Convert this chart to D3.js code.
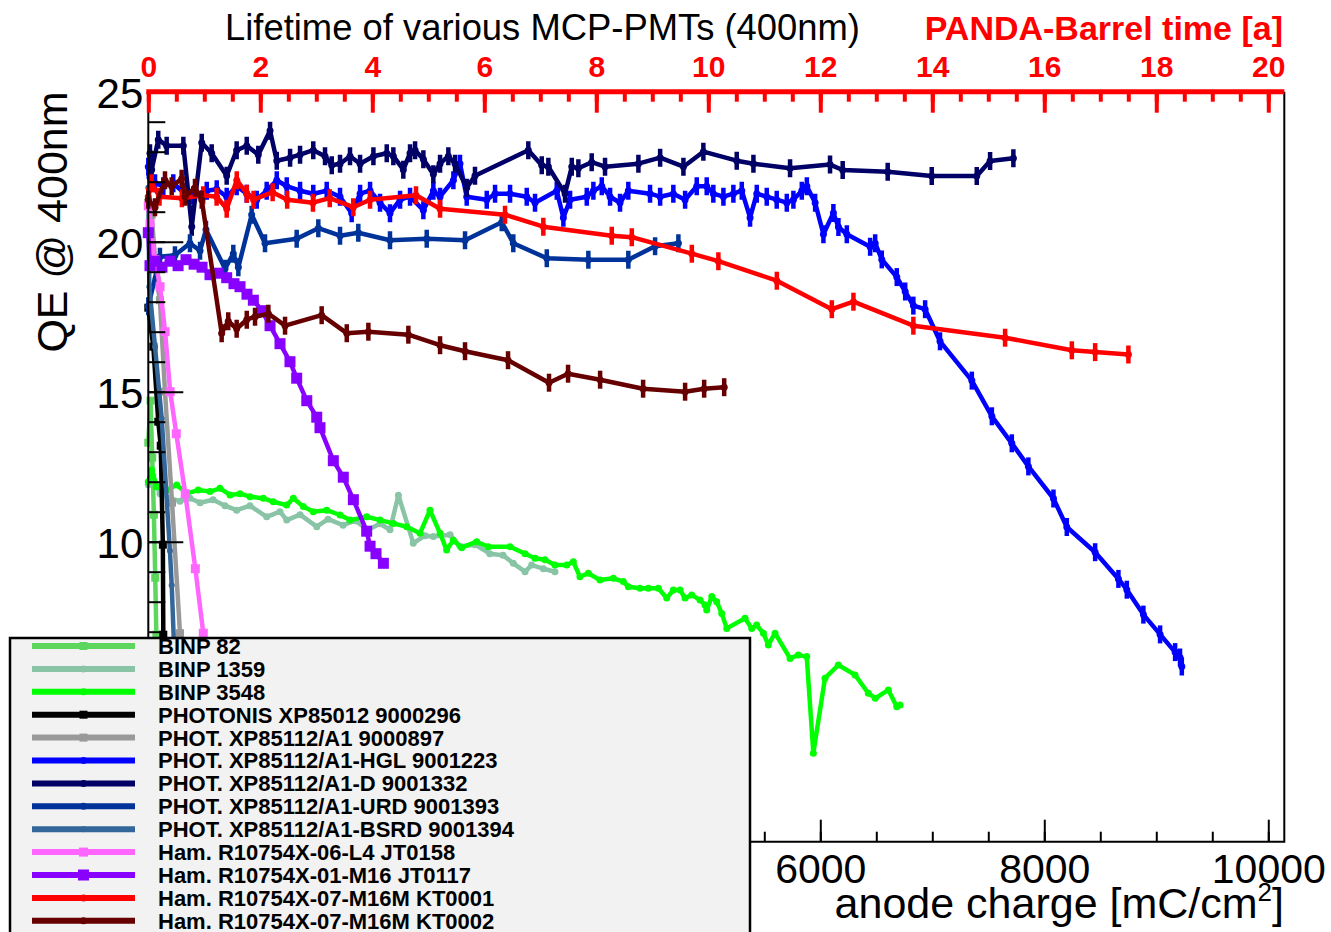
<!DOCTYPE html>
<html>
<head>
<meta charset="utf-8">
<script src="https://cdn.jsdelivr.net/npm/d3@7"></script>
<style>
body { margin: 0; background: #fff; }
svg { display: block; font-family: "Liberation Sans", Arial, sans-serif; }
</style>
</head>
<body>
<svg id="chart" width="1331" height="932"></svg>
<script>
// data: [anode charge mC/cm2, QE %]
const binp82 = [[0,13.3],[20,14.7],[35,12.8],[50,10.9],[62,8.8],[72,6.9],[85,4.5],[100,2.0]]
const binp1359 = [[0,11.9],[42,12.2],[104,11.6],[194,11.45],[283,11.35],[372,11.45],[462,11.3],[578,11.4],[685,11.2],[789,11.05],[908,11.2],[1057,10.83],[1176,11.0],[1236,10.72],[1355,10.9],[1504,10.5],[1605,10.75],[1739,10.55],[1846,10.7],[1962,10.4],[2069,10.6],[2158,10.4],[2233,11.55],[2366,9.95],[2471,10.2],[2545,10.17],[2694,10.23],[2783,9.85],[2917,9.9],[3049,9.6],[3167,9.55],[3259,9.28],[3364,9.0],[3423,9.22],[3527,9.1],[3631,9.0]]
const binp3548 = [[0,12.0],[30,12.39],[75,11.83],[164,11.72],[254,11.89],[343,11.61],[446,11.72],[551,11.67],[640,11.78],[730,11.56],[819,11.6],[908,11.5],[1027,11.45],[1116,11.33],[1236,11.22],[1295,11.45],[1384,11.17],[1473,11.0],[1593,11.05],[1712,10.89],[1801,10.72],[1950,10.83],[2069,10.72],[2188,10.61],[2307,10.5],[2426,10.28],[2515,11.05],[2605,10.28],[2664,9.72],[2723,10.05],[2798,9.8],[2932,10.0],[3036,9.83],[3230,9.83],[3364,9.6],[3453,9.45],[3542,9.4],[3631,9.22],[3736,9.22],[3795,9.33],[3854,8.83],[3929,8.95],[4033,8.72],[4152,8.78],[4241,8.67],[4286,8.5],[4390,8.45],[4465,8.45],[4554,8.45],[4629,8.12],[4688,8.39],[4748,8.39],[4792,8.12],[4852,8.22],[4926,8.06],[4971,7.89],[4986,7.72],[5031,8.17],[5075,8.0],[5120,7.61],[5165,7.11],[5328,7.45],[5388,7.11],[5432,7.22],[5492,6.95],[5536,6.56],[5596,6.95],[5730,6.11],[5804,6.22],[5879,6.17],[5938,2.95],[6042,5.45],[6161,5.89],[6310,5.56],[6429,4.95],[6491,4.78],[6608,5.06],[6683,4.5],[6712,4.56]]
const phot296 = [[0,17.8],[45,16.5],[89,14.0],[111,13.2],[130,9.9],[134,6.9],[140,3.0]]
const phot897 = [[0,21.3],[30,20.9],[75,18.7],[104,18.05],[149,15.0],[212,11.3],[283,6.95],[337,4.5]]
const photHGL = [[0,22.5],[15,22.15],[60,21.95],[134,21.85],[223,21.95],[313,21.65],[402,21.55],[522,21.7],[611,21.75],[700,21.5],[789,21.85],[879,21.6],[968,21.4],[1057,21.7],[1147,22.05],[1236,21.85],[1355,21.7],[1473,21.6],[1593,21.7],[1712,21.5],[1816,20.95],[1891,21.6],[1980,21.7],[2069,21.3],[2158,20.95],[2248,21.4],[2337,21.5],[2456,21.05],[2545,21.7],[2605,21.5],[2724,22.05],[2783,22.6],[2843,21.5],[3022,21.4],[3096,21.6],[3230,21.6],[3379,21.5],[3453,21.3],[3647,21.7],[3706,20.8],[3766,21.4],[3915,21.5],[3974,21.7],[4049,21.85],[4123,21.5],[4212,21.3],[4286,21.7],[4480,21.6],[4570,21.5],[4688,21.6],[4793,21.4],[4897,21.85],[4986,21.85],[5045,21.6],[5135,21.5],[5224,21.6],[5299,21.7],[5373,20.8],[5433,21.6],[5522,21.5],[5611,21.4],[5701,21.3],[5760,21.4],[5835,21.7],[5880,21.85],[5954,21.3],[6028,20.25],[6117,20.96],[6162,20.49],[6237,20.25],[6445,19.83],[6490,19.95],[6549,19.41],[6683,18.82],[6758,18.34],[6831,17.87],[6936,17.75],[7069,16.68],[7353,15.37],[7532,14.18],[7710,13.28],[7858,12.51],[8082,11.44],[8201,10.49],[8454,9.65],[8662,8.76],[8737,8.4],[8885,7.57],[9034,6.91],[9168,6.32],[9212,6.14],[9228,5.84]]
const photD = [[15,22.95],[30,22.4],[89,23.4],[164,23.2],[313,23.2],[388,20.5],[477,23.3],[566,22.95],[700,22.2],[789,23.05],[879,23.2],[982,22.9],[1087,23.7],[1147,22.7],[1266,22.8],[1355,22.9],[1473,23.05],[1578,22.85],[1638,22.55],[1712,22.6],[1801,22.85],[1891,22.6],[2010,22.85],[2129,22.95],[2188,22.85],[2277,22.4],[2337,22.95],[2382,23.05],[2456,22.75],[2545,22.25],[2605,22.6],[2679,22.85],[2739,22.6],[2843,21.8],[2917,22.2],[3393,23.05],[3513,22.55],[3572,22.5],[3721,21.6],[3781,22.5],[3840,22.45],[3959,22.65],[4078,22.5],[4376,22.6],[4570,22.8],[4778,22.5],[4956,23.0],[5254,22.7],[5403,22.6],[5730,22.45],[6087,22.57],[6200,22.39],[6602,22.33],[6995,22.19],[7397,22.19],[7516,22.69],[7724,22.78]]
const photURD = [[0,17.85],[104,19.5],[238,19.55],[372,19.95],[462,19.7],[515,20.4],[685,19.1],[759,19.6],[804,19.15],[923,20.9],[1042,19.95],[1325,20.1],[1518,20.45],[1712,20.2],[1875,20.3],[2158,20.05],[2486,20.1],[2828,20.05],[3156,20.65],[3259,19.95],[3558,19.45],[3929,19.4],[4286,19.4],[4525,19.85],[4733,19.95]]
const photBSRD = [[0,21.8],[9,18.5],[60,16.5],[120,14.1],[193,9.7],[209,8.55],[230,6.5],[260,4.5]]
const hamL4 = [[0,21.2],[15,20.6],[60,19.4],[105,18.5],[150,17.0],[195,15.0],[250,13.6],[330,11.6],[420,9.1],[491,6.95],[560,5.2],[620,3.8]]
const hamM16 = [[0,20.3],[15,19.2],[60,19.35],[122,19.15],[194,19.35],[266,19.2],[337,19.4],[409,19.25],[480,19.15],[551,18.9],[623,18.95],[700,18.8],[765,18.6],[819,18.5],[881,18.25],[938,18.05],[1015,17.7],[1087,17.2],[1176,16.6],[1265,16.0],[1325,15.45],[1415,14.7],[1504,14.15],[1533,13.8],[1652,12.7],[1741,12.15],[1831,11.4],[1950,10.35],[1980,9.85],[2033,9.6],[2099,9.28]]
const hamKT1 = [[0,21.5],[30,21.95],[100,21.5],[300,21.45],[490,21.55],[610,21.5],[700,21.1],[790,22.05],[880,21.6],[940,21.4],[1110,21.65],[1240,21.4],[1470,21.3],[1620,21.45],[1830,21.15],[1980,21.4],[2390,21.55],[2605,21.1],[3185,20.9],[3527,20.5],[4138,20.2],[4317,20.15],[4853,19.6],[5090,19.35],[5612,18.7],[6103,17.75],[6296,18.0],[6831,17.2],[7650,16.8],[8246,16.38],[8454,16.32],[8751,16.24]]
const hamKT2 = [[0,21.4],[60,21.15],[149,22.05],[209,21.85],[298,22.1],[328,21.5],[417,21.8],[477,21.4],[655,16.95],[714,17.35],[789,17.1],[879,17.4],[953,17.5],[1072,17.6],[1221,17.2],[1548,17.55],[1772,16.95],[1965,17.0],[2322,16.9],[2605,16.55],[2828,16.35],[3212,16.05],[3578,15.3],[3748,15.6],[4034,15.4],[4418,15.1],[4793,15.0],[4963,15.1],[5142,15.15]]

const chargeTicks = [0, 2000, 4000, 6000, 8000, 10000]
const qeTicks = [0, 5, 10, 15, 20, 25]
const yearTicks = [0, 2, 4, 6, 8, 10, 12, 14, 16, 18, 20]

// styles for each graph, in drawing order
const series = [
    { label: "BINP 82", data: binp82, color: "#5cd65c", marker: "square", ms: 8, err: false },
    { label: "BINP 1359", data: binp1359, color: "#88c4a5", marker: "circle", ms: 7, err: false },
    { label: "BINP 3548", data: binp3548, color: "#00ff00", marker: "circle", ms: 7, err: false },
    { label: "PHOTONIS XP85012 9000296", data: phot296, color: "#000000", marker: "square", ms: 8, err: false },
    { label: "PHOT. XP85112/A1 9000897", data: phot897, color: "#999999", marker: "square", ms: 8, err: false },
    { label: "PHOT. XP85112/A1-HGL 9001223", data: photHGL, color: "#0000ff", marker: "circle", ms: 7, err: true },
    { label: "PHOT. XP85112/A1-D 9001332", data: photD, color: "#000066", marker: "circle", ms: 7, err: true },
    { label: "PHOT. XP85112/A1-URD 9001393", data: photURD, color: "#003399", marker: "circle", ms: 7, err: true },
    { label: "PHOT. XP85112/A1-BSRD 9001394", data: photBSRD, color: "#336699", marker: "circle", ms: 6, err: false },
    { label: "Ham. R10754X-06-L4 JT0158", data: hamL4, color: "#ff66ff", marker: "square", ms: 9, err: false },
    { label: "Ham. R10754X-01-M16 JT0117", data: hamM16, color: "#8800ff", marker: "square", ms: 11, err: false },
    { label: "Ham. R10754X-07-M16M KT0001", data: hamKT1, color: "#ff0000", marker: "circle", ms: 7, err: true },
    { label: "Ham. R10754X-07-M16M KT0002", data: hamKT2, color: "#660000", marker: "circle", ms: 7, err: true },
]

const padL = 148.3, padR = 1284.3, padT = 91.7, padB = 841.7

const svg = d3.select("#chart")
const x = d3.scaleLinear().domain([0, 10143]).range([padL, padR])
const xTop = d3.scaleLinear().domain([0, 10143 / 500]).range([padL, padR])
const y = d3.scaleLinear().domain([0, 25]).range([padB, padT])

svg.append("rect").attr("width", 1331).attr("height", 932).attr("fill", "#fff")

// titles
svg.append("text").attr("x", 225).attr("y", 40).attr("font-size", 36.4)
    .text("Lifetime of various MCP-PMTs (400nm)")
svg.append("text").attr("x", 1283).attr("y", 40).attr("text-anchor", "end")
    .attr("font-size", 34).attr("font-weight", "bold").attr("fill", "#ff0000")
    .text("PANDA-Barrel time [a]")

// clip for graphs
svg.append("clipPath").attr("id", "clip").append("rect")
    .attr("x", padL - 8).attr("y", padT).attr("width", padR - padL + 8).attr("height", padB - padT)

const line = d3.line().x(d => x(d[0])).y(d => y(d[1]))
const plot = svg.append("g").attr("clip-path", "url(#clip)")

series.forEach(s => {
    const g = plot.append("g")
    g.append("path").datum(s.data)
        .attr("fill", "none").attr("stroke", s.color).attr("stroke-width", 4.5)
        .attr("stroke-linejoin", "round").attr("d", line)
    if (s.err) {
        g.selectAll("line.err").data(s.data).join("line")
            .attr("x1", d => x(d[0])).attr("x2", d => x(d[0]))
            .attr("y1", d => y(d[1] - 0.3)).attr("y2", d => y(d[1] + 0.3))
            .attr("stroke", s.color).attr("stroke-width", 4.5)
    }
    if (s.marker == "square") {
        g.selectAll("rect").data(s.data).join("rect")
            .attr("x", d => x(d[0]) - s.ms / 2).attr("y", d => y(d[1]) - s.ms / 2)
            .attr("width", s.ms).attr("height", s.ms).attr("fill", s.color)
    } else {
        g.selectAll("circle").data(s.data).join("circle")
            .attr("cx", d => x(d[0])).attr("cy", d => y(d[1])).attr("r", s.ms / 2)
            .attr("fill", s.color)
    }
})

// bottom axis
const minorCharge = d3.range(0, 10001, 500)
svg.append("g").attr("transform", `translate(0,${padB})`)
    .call(d3.axisBottom(x).tickValues(minorCharge).tickSize(-10).tickFormat(""))
svg.append("g").attr("class", "xaxis").attr("transform", `translate(0,${padB})`)
    .call(d3.axisBottom(x).tickValues(chargeTicks).tickSize(-22).tickPadding(12).tickFormat(d3.format("d")))
    .selectAll("text").attr("font-size", 41).attr("fill", "#000")

// left axis
svg.append("g").attr("transform", `translate(${padL},0)`)
    .call(d3.axisLeft(y).tickValues(d3.range(0, 26, 1)).tickSize(-17).tickFormat(""))
svg.append("g").attr("class", "yaxis").attr("transform", `translate(${padL},0)`)
    .call(d3.axisLeft(y).tickValues(qeTicks).tickSize(-35).tickPadding(5))
    .selectAll("text").attr("font-size", 42).attr("fill", "#000").attr("dy", "0.38em")

svg.selectAll(".domain").remove()
svg.selectAll(".tick line").attr("stroke", "#000").attr("stroke-width", 2)

// frame
svg.append("path").attr("d", `M${padL},${padT}V${padB}H${padR}V${padT}`)
    .attr("fill", "none").attr("stroke", "#000").attr("stroke-width", 2)

// top red axis
const topAxis = svg.append("g").attr("transform", `translate(0,${padT})`)
topAxis.append("g")
    .call(d3.axisTop(xTop).tickValues(d3.range(0, 20.01, 0.5)).tickSize(-10).tickFormat(""))
topAxis.append("g")
    .call(d3.axisTop(xTop).tickValues(yearTicks).tickSize(-21).tickPadding(15))
    .selectAll("text").attr("font-size", 30).attr("font-weight", "bold").attr("fill", "#ff0000")
topAxis.selectAll(".domain").remove()
topAxis.selectAll(".tick line").attr("stroke", "#ff0000").attr("stroke-width", 4)
topAxis.append("line").attr("x1", padL - 2).attr("x2", padR)
    .attr("stroke", "#ff0000").attr("stroke-width", 5)

// axis titles
svg.append("text").attr("transform", "translate(67,222) rotate(-90)")
    .attr("text-anchor", "middle").attr("font-size", 43).text("QE @ 400nm")
const xt = svg.append("text").attr("x", 1284).attr("y", 918).attr("text-anchor", "end").attr("font-size", 43)
xt.append("tspan").text("anode charge [mC/cm")
xt.append("tspan").attr("font-size", 26).attr("dy", -17).text("2")
xt.append("tspan").attr("dy", 17).text("]")

// legend
const legend = svg.append("g")
legend.append("rect").attr("x", 10).attr("y", 638).attr("width", 740).attr("height", 310)
    .attr("fill", "#f2f2f2").attr("stroke", "#000").attr("stroke-width", 2.5)
series.forEach((s, i) => {
    const ly = 646 + i * 22.9
    const row = legend.append("g")
    row.append("line").attr("x1", 32).attr("x2", 135).attr("y1", ly).attr("y2", ly)
        .attr("stroke", s.color).attr("stroke-width", 6)
    if (s.marker == "square") {
        row.append("rect").attr("x", 83.5 - s.ms / 2).attr("y", ly - s.ms / 2)
            .attr("width", s.ms).attr("height", s.ms).attr("fill", s.color)
    } else {
        row.append("circle").attr("cx", 83.5).attr("cy", ly).attr("r", s.ms / 2).attr("fill", s.color)
    }
    row.append("text").attr("x", 158).attr("y", ly).attr("dy", "0.36em")
        .attr("font-size", 22).attr("font-weight", "bold").text(s.label)
})
</script>
</body>
</html>
